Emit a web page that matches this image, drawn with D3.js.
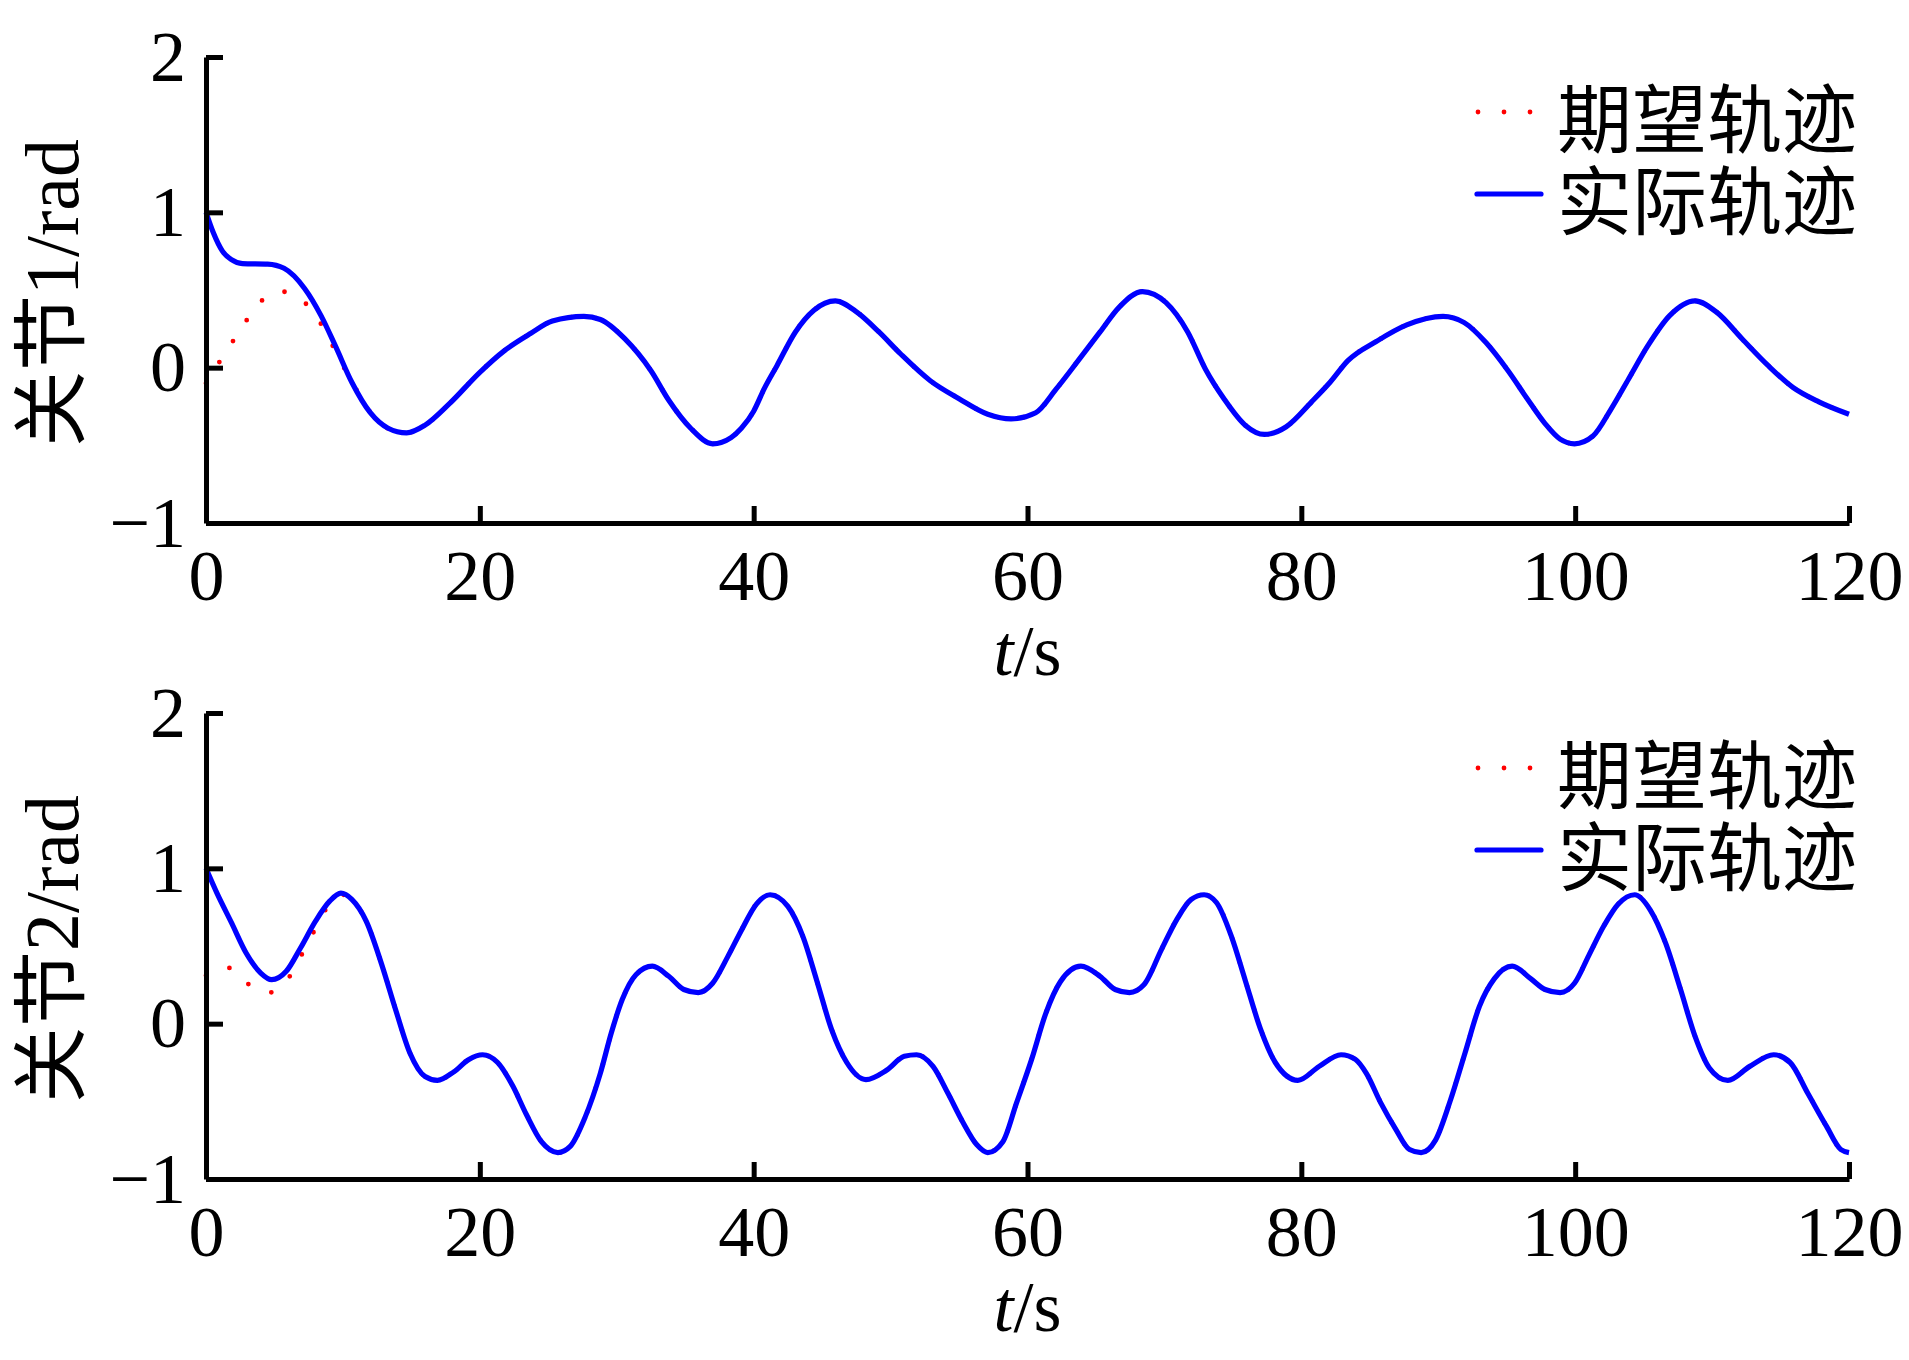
<!DOCTYPE html>
<html>
<head>
<meta charset="utf-8">
<script src="https://cdn.jsdelivr.net/npm/d3@7"></script>
<style>
  html, body { margin: 0; padding: 0; background: #fff; }
  svg { display: block; }
</style>
</head>
<body>
<svg id="chart" width="1909" height="1360"></svg>
<script>
// ---------- data ----------
const xTicks = [0, 20, 40, 60, 80, 100, 120];
const yTicks = [-1, 0, 1, 2];
const legendLabels = ["期望轨迹", "实际轨迹"];
const yLabels = ["关节1/rad", "关节2/rad"];

// Joint 1 – actual trajectory
const t1Actual = [0, 0.53, 1.2, 1.86, 2.66, 4.5, 5.7, 7.2, 8.4, 9.45, 10.65, 12, 13.3, 14.65, 16, 17.8, 20, 21.8, 23.7, 25.3, 27.6, 28.8, 30.6, 32.5, 33.8, 35.4, 37.0, 38.35, 39.1, 40, 40.8, 41.7, 43.05, 44.4, 45.97, 47.56, 49.15, 50.74, 52.9, 55, 57.1, 58.8, 60.6, 62.1, 63.7, 65.3, 66.7, 68.4, 70.1, 71.7, 73.0, 74.35, 75.9, 77.3, 78.9, 80.75, 82.1, 83.4, 85.5, 87.7, 90.35, 91.9, 93.5, 95.1, 96.5, 97.8, 98.9, 99.95, 101.3, 102.6, 103.9, 105.3, 106.9, 108.75, 110.35, 112.2, 114.1, 115.9, 117.8, 120];
const q1Actual = [1.0, 0.87, 0.75, 0.695, 0.67, 0.667, 0.64, 0.51, 0.335, 0.14, -0.094, -0.29, -0.39, -0.42, -0.37, -0.23, -0.03, 0.11, 0.22, 0.30, 0.33, 0.31, 0.185, -0.02, -0.21, -0.39, -0.49, -0.45, -0.39, -0.28, -0.13, 0.013, 0.23, 0.37, 0.43, 0.356, 0.23, 0.088, -0.084, -0.20, -0.30, -0.33, -0.29, -0.137, 0.045, 0.23, 0.39, 0.49, 0.42, 0.23, -0.01, -0.20, -0.37, -0.43, -0.38, -0.22, -0.094, 0.045, 0.17, 0.275, 0.33, 0.29, 0.16, -0.02, -0.20, -0.36, -0.46, -0.49, -0.44, -0.27, -0.073, 0.14, 0.335, 0.43, 0.356, 0.185, 0.013, -0.127, -0.22, -0.30];
// Joint 1 – desired trajectory where it differs from the actual one
const t1DesiredStart = [0, 0.93, 1.89, 2.85, 3.94, 5.49, 7.14, 8.3, 9.2, 10.04, 10.95, 11.9, 13.05];
const q1DesiredStart = [-0.10, 0.03, 0.16, 0.29, 0.42, 0.49, 0.425, 0.296, 0.15, 0.006, -0.137, -0.277, -0.38];

// Joint 2 – actual trajectory
const t2Actual = [0, 0.8, 1.86, 2.93, 4.0, 4.8, 5.86, 6.9, 8.0, 9.05, 9.85, 10.65, 11.7, 12.8, 13.85, 14.9, 16, 16.9, 18.1, 19.2, 20.2, 21.3, 22.4, 23.4, 24.5, 25.7, 26.6, 27.7, 28.8, 29.6, 30.4, 31.4, 32.6, 33.8, 34.9, 35.95, 37.0, 38.1, 39.1, 40.2, 41.2, 42.5, 43.6, 44.6, 45.7, 46.8, 48.2, 49.7, 51.0, 51.9, 53.1, 54.2, 55.25, 56.3, 57.1, 58.2, 59.2, 60.3, 61.35, 62.4, 63.9, 65.3, 66.4, 67.45, 68.5, 69.8, 70.9, 71.96, 72.9, 73.8, 74.9, 75.9, 77.0, 78.1, 79.75, 81.3, 82.9, 83.95, 84.75, 85.8, 86.9, 87.9, 88.75, 89.8, 90.9, 91.95, 93.0, 94.1, 95.4, 96.75, 97.8, 98.9, 99.95, 101.0, 102.1, 103.15, 104.35, 105.5, 106.6, 107.7, 108.75, 109.8, 111.15, 112.75, 114.5, 115.7, 117.0, 118.35, 119.4, 120];
const q2Actual = [1.0, 0.84, 0.65, 0.455, 0.326, 0.283, 0.337, 0.487, 0.66, 0.79, 0.84, 0.80, 0.66, 0.39, 0.09, -0.19, -0.34, -0.365, -0.31, -0.23, -0.20, -0.25, -0.40, -0.585, -0.76, -0.83, -0.79, -0.60, -0.32, -0.06, 0.155, 0.315, 0.37, 0.305, 0.22, 0.20, 0.26, 0.43, 0.60, 0.77, 0.83, 0.755, 0.56, 0.28, -0.04, -0.25, -0.36, -0.30, -0.21, -0.20, -0.275, -0.45, -0.63, -0.78, -0.83, -0.76, -0.51, -0.23, 0.07, 0.27, 0.37, 0.305, 0.22, 0.20, 0.25, 0.48, 0.67, 0.80, 0.83, 0.78, 0.56, 0.28, -0.03, -0.25, -0.365, -0.275, -0.20, -0.23, -0.32, -0.51, -0.68, -0.81, -0.83, -0.75, -0.49, -0.19, 0.11, 0.29, 0.37, 0.29, 0.22, 0.20, 0.26, 0.44, 0.63, 0.77, 0.83, 0.73, 0.52, 0.22, -0.08, -0.285, -0.365, -0.275, -0.20, -0.25, -0.45, -0.66, -0.81, -0.83];
// Joint 2 – desired trajectory where it differs from the actual one
const t2DesiredStart = [0, 1.6, 3.0, 4.6, 6.0, 6.9, 7.8, 8.7, 10.0];
const q2DesiredStart = [0.31, 0.36, 0.26, 0.20, 0.29, 0.43, 0.58, 0.73, 0.83];

// ---------- drawing ----------
const svg = d3.select("#chart");
const FONT = "'Liberation Serif', 'Times New Roman', 'Noto Sans CJK SC', serif";
const CJK = "'Noto Sans CJK SC', sans-serif";
const x = d3.scaleLinear().domain([0, 120]).range([206, 1849]);

function zip(ts, vs) { return ts.map((t, i) => [t, vs[i]]); }

function panel(top, bottom, tA, qA, tD, qD, yLabel) {
  const y = d3.scaleLinear().domain([-1, 2]).range([bottom, top]);
  const g = svg.append("g");

  const actual = zip(tA, qA);
  const dStart = zip(tD, qD);
  const lastD = tD[tD.length - 1];
  const desired = dStart.concat(actual.filter(d => d[0] > lastD + 0.5));

  const line = d3.line().x(d => x(d[0])).y(d => y(d[1])).curve(d3.curveMonotoneX);

  g.append("path").datum(desired).attr("d", line)
    .attr("fill", "none").attr("stroke", "#ff0000").attr("stroke-width", 4.8)
    .attr("stroke-linecap", "round").attr("stroke-dasharray", "0 25");
  g.append("path").datum(actual).attr("d", line)
    .attr("fill", "none").attr("stroke", "#0000ff").attr("stroke-width", 5.2)
    .attr("stroke-linejoin", "round");

  // axes
  const ax = g.append("g").attr("transform", `translate(0,${bottom})`)
    .call(d3.axisBottom(x).tickValues(xTicks).tickSize(-17).tickSizeOuter(0).tickPadding(26));
  const ay = g.append("g").attr("transform", `translate(${x(0)},0)`)
    .call(d3.axisLeft(y).tickValues(yTicks).tickSize(-17).tickSizeOuter(0).tickPadding(20)
      .tickFormat(d => d < 0 ? "\u2212" + Math.abs(d) : String(d)));
  [ax, ay].forEach(a => {
    a.select(".domain").attr("stroke", "#000").attr("stroke-width", 5);
    a.selectAll(".tick line").attr("stroke", "#000").attr("stroke-width", 5);
    a.selectAll(".tick text").attr("fill", "#000").style("font-family", FONT).style("font-size", "72px");
  });

  // x label
  const xl = g.append("text").attr("x", x(60)).attr("y", bottom + 152)
    .attr("text-anchor", "middle").style("font-family", FONT).style("font-size", "72px");
  xl.append("tspan").style("font-style", "italic").text("t");
  xl.append("tspan").text("/s");

  // y label
  g.append("text")
    .attr("transform", `translate(52,${(top + bottom) / 2 + 3}) rotate(-90)`)
    .attr("text-anchor", "middle").attr("dominant-baseline", "central")
    .style("font-family", FONT).style("font-size", "76px").text(yLabel);

  // legend
  const lg = g.append("g");
  const l1 = top + 55, l2 = top + 137;
  lg.append("line").attr("x1", 1478).attr("x2", 1534).attr("y1", l1).attr("y2", l1)
    .attr("stroke", "#ff0000").attr("stroke-width", 4.8).attr("stroke-linecap", "round")
    .attr("stroke-dasharray", "0 26");
  lg.append("line").attr("x1", 1477).attr("x2", 1541).attr("y1", l2).attr("y2", l2)
    .attr("stroke", "#0000ff").attr("stroke-width", 5.2).attr("stroke-linecap", "round");
  const lt = lg.append("text").style("font-family", CJK).style("font-size", "75px");
  lt.append("tspan").attr("x", 1557).attr("y", l1 + 2).attr("dominant-baseline", "central").text(legendLabels[0]);
  lt.append("tspan").attr("x", 1557).attr("y", l2 + 2).attr("dominant-baseline", "central").text(legendLabels[1]);
}

panel(57, 523, t1Actual, q1Actual, t1DesiredStart, q1DesiredStart, yLabels[0]);
panel(713, 1179, t2Actual, q2Actual, t2DesiredStart, q2DesiredStart, yLabels[1]);
</script>
</body>
</html>
